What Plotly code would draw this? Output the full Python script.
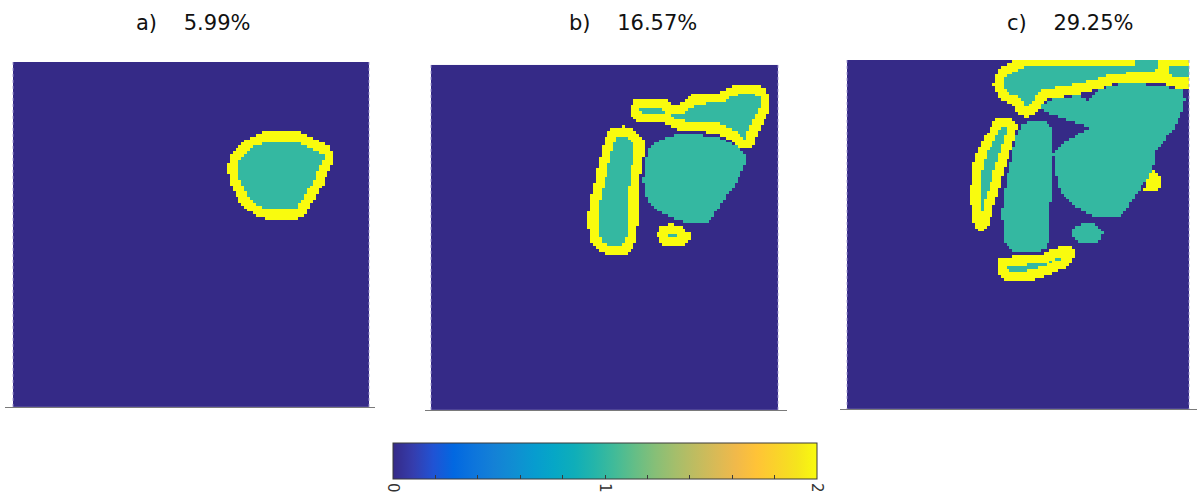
import numpy as np
import plotly.graph_objects as go

# Each field is sampled on an N x N grid over field coordinates 0..100
# (x to the right, y downward). Regions are outlines in those coordinates.
N = 120
RING = 2.9  # width of the value-2 band along ringed outlines

titles = ["a)\u00a0\u00a0\u00a0\u00a05.99%", "b)\u00a0\u00a0\u00a0\u00a016.57%", "c)\u00a0\u00a0\u00a0\u00a029.25%"]

# ("ring", outline): interior = 1, band along outline = 2
# ("fill", outline): whole region = 1
regions_a = [
    ("ring", [(70.2, 20.3), (80.9, 20.3), (89.0, 24.6), (90.4, 26.9), (89.9, 28.9), (86.8, 36.1),
              (84.0, 40.8), (81.5, 44.8), (79.2, 45.7), (71.6, 45.7), (68.8, 44.8), (64.3, 41.9),
              (61.0, 35.5), (60.1, 30.3), (61.5, 26.3), (65.2, 22.5), (68.8, 21.1)]),
]

regions_b = [
    ("ring", [(57.3, 12.8), (58.3, 10.4), (61.2, 9.6), (63.6, 9.6), (67.9, 9.8), (69.4, 11.6),
              (72.2, 11.1), (75.1, 8.7), (78.0, 8.4), (82.8, 8.2), (85.7, 6.4), (88.6, 5.7),
              (93.9, 5.5), (96.7, 7.2), (97.7, 9.2), (97.7, 12.1), (96.3, 15.9), (94.3, 19.7),
              (92.9, 23.1), (91.9, 24.4), (89.0, 24.6), (86.7, 22.2), (81.8, 19.7), (73.2, 19.3),
              (69.4, 18.3), (67.4, 16.8), (63.6, 16.8), (59.7, 16.8), (57.8, 15.2)]),
    ("ring", [(53.0, 18.3), (55.9, 17.8), (58.3, 18.8), (60.7, 20.7), (61.7, 22.6), (61.2, 27.5),
              (60.2, 32.3), (59.7, 38.1), (59.7, 44.8), (59.3, 50.6), (57.8, 54.0), (55.9, 55.2),
              (51.1, 55.2), (48.2, 54.0), (45.8, 51.5), (45.2, 44.8), (45.8, 39.0), (47.3, 33.2),
              (48.7, 26.5), (50.1, 21.2), (51.6, 18.9)]),
    ("ring", [(65.2, 49.1), (66.2, 46.9), (69.4, 46.0), (72.4, 46.9), (75.0, 49.1), (74.4, 51.8),
              (71.3, 52.9), (67.4, 52.7), (65.7, 51.4)]),
    ("fill", [(64.0, 23.1), (68.3, 20.8), (73.2, 19.9), (82.4, 20.8), (88.2, 23.7), (90.5, 26.0),
              (91.0, 27.9), (89.0, 32.3), (86.7, 36.1), (83.8, 40.0), (81.4, 43.8), (79.9, 45.6),
              (73.2, 45.8), (69.4, 44.3), (65.5, 42.4), (62.6, 40.0), (61.4, 37.0), (61.2, 33.2),
              (61.7, 27.5), (62.8, 24.0)]),
]

regions_c = [
    ("ring", [(42.7, 7.4), (43.3, 4.3), (45.6, 1.7), (49.4, -0.1), (50.6, -0.9), (93.0, -0.9),
              (93.0, 6.9), (85.7, 6.3), (78.4, 6.9), (74.0, 8.3), (69.0, 9.4), (62.3, 10.6),
              (57.9, 11.4), (56.4, 14.3), (54.4, 16.0), (52.0, 16.6), (50.0, 15.4), (48.5, 13.1),
              (45.6, 11.7), (43.6, 9.4)]),
    ("ring", [(91.5, -0.9), (103.2, -0.9), (103.2, 8.3), (98.8, 8.3), (94.4, 7.7), (91.5, 5.7)]),
    ("fill", [(84.5, -0.9), (91.2, -0.9), (91.2, 2.9), (84.5, 2.9)]),
    ("ring", [(89.2, 31.4), (91.5, 33.7), (91.2, 37.1), (86.8, 37.4), (87.7, 34.9)]),
    ("ring", [(43.9, 16.3), (47.7, 16.3), (49.9, 18.3), (49.3, 22.0), (48.0, 25.7), (46.0, 31.4),
              (44.2, 38.0), (42.4, 43.7), (40.9, 48.6), (38.9, 49.1), (36.8, 46.6), (36.0, 40.0),
              (36.5, 32.3), (37.4, 27.7), (38.9, 24.3), (41.2, 20.6), (42.7, 17.7)]),
    ("ring", [(43.9, 59.1), (44.7, 56.6), (47.7, 56.3), (57.3, 55.4), (62.3, 53.4), (65.8, 53.4),
              (66.7, 55.7), (65.2, 59.1), (61.4, 60.6), (57.3, 62.3), (52.6, 63.4), (46.8, 63.4),
              (44.2, 61.4)]),
    ("fill", [(52.6, 17.7), (56.4, 17.1), (59.4, 18.6), (60.2, 21.4), (59.9, 25.7), (59.6, 30.6),
              (59.6, 40.0), (59.4, 50.6), (57.9, 54.3), (53.5, 55.1), (48.5, 54.9), (45.6, 51.4),
              (45.3, 42.9), (46.5, 35.1), (48.0, 28.6), (49.4, 22.0), (50.9, 18.9)]),
    ("fill", [(56.4, 12.6), (62.3, 10.6), (67.8, 10.3), (70.5, 11.7), (73.7, 8.6), (79.8, 6.9),
              (88.6, 7.1), (98.5, 8.5), (98.8, 11.4), (98.2, 14.3), (95.3, 20.0), (91.5, 24.9),
              (90.1, 26.3), (89.5, 30.9), (87.7, 34.3), (84.8, 38.0), (81.9, 42.9), (80.1, 44.9),
              (76.0, 45.4), (72.2, 44.9), (68.1, 42.9), (64.3, 40.0), (61.7, 36.3), (61.1, 32.3),
              (60.4, 27.1), (63.5, 23.7), (71.1, 19.4), (57.3, 14.9)]),
    ("fill", [(65.7, 50.0), (66.7, 47.6), (69.1, 46.7), (73.0, 47.1), (74.9, 49.5), (74.0, 51.9),
              (70.1, 52.9), (67.2, 52.2)]),
]

# MATLAB parula, sampled every third entry of the 64-colour table
parula = [
    (0.2081, 0.1663, 0.5292), (0.2081, 0.2386, 0.6771), (0.1253, 0.3242, 0.8303),
    (0.0060, 0.4086, 0.8828), (0.0498, 0.4586, 0.8641), (0.0779, 0.5040, 0.8384),
    (0.0641, 0.5570, 0.8240), (0.0265, 0.6137, 0.8135), (0.0228, 0.6535, 0.7768),
    (0.0590, 0.6838, 0.7254), (0.1453, 0.7098, 0.6646), (0.2586, 0.7317, 0.5954),
    (0.3953, 0.7459, 0.5244), (0.5300, 0.7491, 0.4661), (0.6473, 0.7456, 0.4188),
    (0.7525, 0.7384, 0.3768), (0.8507, 0.7299, 0.3360), (0.9450, 0.7261, 0.2886),
    (0.9990, 0.7653, 0.2164), (0.9789, 0.8271, 0.1633), (0.9589, 0.8949, 0.1132),
    (0.9763, 0.9831, 0.0538),
]
idx = [0, 3, 6, 9, 12, 15, 18, 21, 24, 27, 30, 33, 36, 39, 42, 45, 48, 51, 54, 57, 60, 63]
colorscale = [[i / 63, "rgb(%d,%d,%d)" % tuple(round(255 * c) for c in rgb)] for i, rgb in zip(idx, parula)]

centers = (np.arange(N) + 0.5) * 100.0 / N
X, Y = np.meshgrid(centers, centers)


def inside(poly):
    xs = np.array([p[0] for p in poly])
    ys = np.array([p[1] for p in poly])
    res = np.zeros(X.shape, dtype=bool)
    j = len(poly) - 1
    for i in range(len(poly)):
        xi, yi, xj, yj = xs[i], ys[i], xs[j], ys[j]
        if yi != yj:
            cross = ((yi > Y) != (yj > Y)) & (X < (xj - xi) * (Y - yi) / (yj - yi) + xi)
            res ^= cross
        j = i
    return res


def edge_distance(poly):
    d = np.full(X.shape, np.inf)
    for i in range(len(poly)):
        (x1, y1), (x2, y2) = poly[i - 1], poly[i]
        dx, dy = x2 - x1, y2 - y1
        t = np.clip(((X - x1) * dx + (Y - y1) * dy) / (dx * dx + dy * dy), 0, 1)
        d = np.minimum(d, np.hypot(X - x1 - t * dx, Y - y1 - t * dy))
    return d


def rasterize(regions):
    z = np.zeros(X.shape)
    for kind, poly in regions:
        m = inside(poly)
        if kind == "ring":
            band = edge_distance(poly) < RING
            z[m & band] = 2
            z[m & ~band] = 1
        else:
            z[m] = 1
    return z


W, H = 1197, 497
# pixel placement of each field: (left, right, top, bottom, axis-line left, axis-line right)
panels = [
    (13, 369, 62, 408, 5, 375),
    (431, 778, 65, 411, 425, 787),
    (847, 1189, 60, 410, 840, 1197),
]
title_x = [193, 633, 1070]

fig = go.Figure()
for k, regions in enumerate([regions_a, regions_b, regions_c]):
    z = rasterize(regions)
    left, right, top, bottom, la, ra = panels[k]
    sfx = "" if k == 0 else str(k + 1)
    fig.add_trace(go.Heatmap(x=centers, y=centers, z=z, coloraxis="coloraxis",
                             xaxis="x" + sfx, yaxis="y" + sfx, hoverinfo="skip"))
    ppu = (right - left) / 100.0
    fig.update_layout(**{
        "xaxis" + sfx: dict(domain=[la / W, ra / W],
                            range=[-(left - la) / ppu, 100 + (ra - right) / ppu],
                            showline=True, linecolor="#7a7a7a", linewidth=1,
                            showgrid=False, zeroline=False, showticklabels=False,
                            ticks="", anchor="y" + sfx, fixedrange=True),
        "yaxis" + sfx: dict(domain=[1 - bottom / H, 1 - top / H], range=[100, 0],
                            showline=False, showgrid=False, zeroline=False,
                            showticklabels=False, ticks="", anchor="x" + sfx, fixedrange=True),
    })
    for xe in (0, 100):
        fig.add_shape(type="line", xref="x" + sfx, yref="y" + sfx, x0=xe, x1=xe, y0=0, y1=100,
                      line=dict(color="rgba(160,150,210,0.9)", width=1, dash="dot"))
    fig.add_annotation(x=title_x[k] / W, y=1 - 23 / H, xref="paper", yref="paper",
                       text=titles[k], showarrow=False, xanchor="center", yanchor="middle",
                       font=dict(family="DejaVu Sans", size=21, color="#111111"))

tickvals = [round(0.2 * i, 1) for i in range(11)]
ticktext = [str(int(v)) if float(v).is_integer() else "" for v in tickvals]

fig.update_layout(
    width=W, height=H,
    margin=dict(l=0, r=0, t=0, b=0),
    paper_bgcolor="white", plot_bgcolor="white",
    showlegend=False,
    coloraxis=dict(
        colorscale=colorscale, cmin=0, cmax=2,
        colorbar=dict(
            orientation="h", x=605 / W, xanchor="center", y=1 - 443 / H, yanchor="top",
            len=424, lenmode="pixels", thickness=36, thicknessmode="pixels",
            xpad=0, ypad=0, outlinewidth=1, outlinecolor="#3a3a3a",
            tickmode="array", tickvals=tickvals, ticktext=ticktext,
            ticks="inside", ticklen=4, tickwidth=1, tickcolor="#3a3a3a",
            tickangle=90, tickfont=dict(family="DejaVu Sans", size=15, color="#333333"),
        ),
    ),
)

fig.write_html("out.html")
